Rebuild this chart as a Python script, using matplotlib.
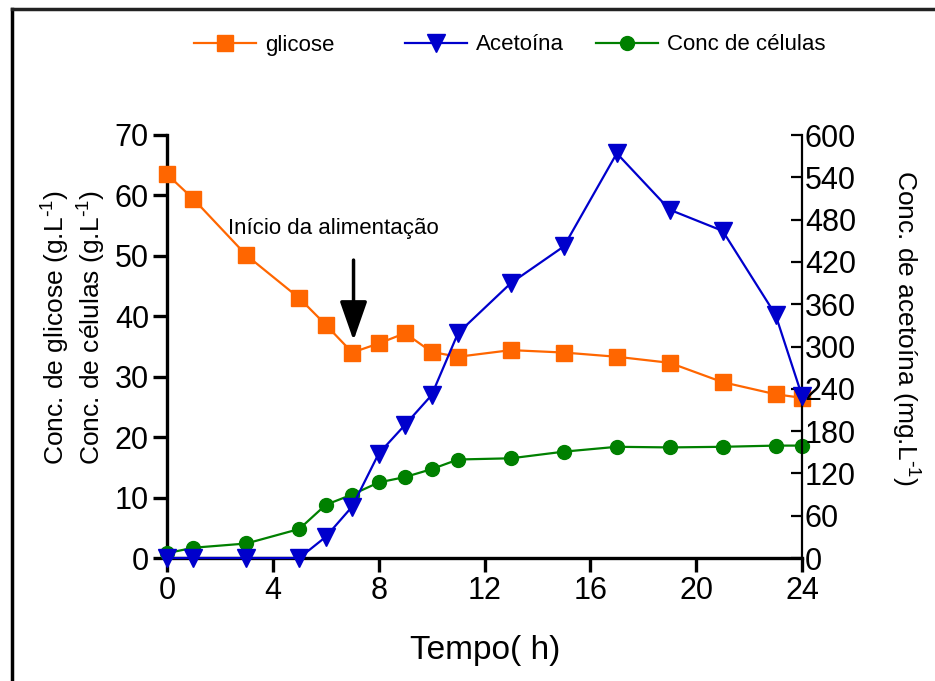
import numpy as np
import matplotlib.pyplot as plt
from matplotlib.lines import Line2D

plt.rcParams['font.family'] = ['Liberation Sans', 'DejaVu Sans']
plt.rcParams['mathtext.default'] = 'regular'

# tempo de cultivo (h)
tempo = [0, 1, 3, 5, 6, 7, 8, 9, 10, 11, 13, 15, 17, 19, 21, 23, 24]
# glicose (g/L)
glicose = [63.5, 59.4, 50.1, 43.0, 38.6, 34.0, 35.5, 37.2, 34.1, 33.3,
           34.4, 34.0, 33.3, 32.3, 29.1, 27.1, 26.5]
# células (g/L)
celulas = [0.8, 1.7, 2.4, 4.8, 8.8, 10.5, 12.5, 13.4, 14.7, 16.3,
           16.5, 17.6, 18.4, 18.3, 18.4, 18.6, 18.6]
# acetoína (mg/L)
acetoina = [0, 0, 0, 0, 30, 73, 148, 189, 231, 319,
            390, 442, 574, 494, 464, 345, 230]

laranja = '#ff6600'
azul = '#0000cc'
verde = '#008000'

fig = plt.figure(figsize=(9.35, 6.81), dpi=100)
ax = fig.add_axes([167/935, 1-558/681, 635/935, 423/681])
ax2 = ax.twinx()

l1, = ax.plot(tempo, glicose, '-s', color=laranja, lw=1.6, ms=11, clip_on=False, zorder=4)
l3, = ax.plot(tempo, celulas, '-o', color=verde, lw=1.6, ms=10, clip_on=False, zorder=4)
l2, = ax2.plot(tempo, acetoina, '-v', color=azul, lw=1.6, ms=13, clip_on=False, zorder=5)

ax.set_xlim(0, 24)
ax.set_ylim(0, 70)
ax2.set_ylim(0, 600)
ax.set_xticks(np.arange(0, 25, 4))
ax.set_yticks(np.arange(0, 71, 10))
ax2.set_yticks(np.arange(0, 601, 60))

for s in ['top', 'right']:
    ax.spines[s].set_visible(False)
for s in ['top', 'left', 'bottom']:
    ax2.spines[s].set_visible(False)
ax.spines['left'].set_linewidth(2.4)
ax.spines['bottom'].set_linewidth(2.4)
ax2.spines['right'].set_linewidth(1.6)

ax.tick_params(axis='both', direction='out', length=10, width=2.4, labelsize=22, pad=3)
ax2.tick_params(axis='y', direction='in', length=8, width=1.6, labelsize=22, pad=2)

# início da alimentação
ax.text(2.3, 54.6, 'Início da alimentação', fontsize=16, ha='left', va='center')
ax.annotate('', xy=(7.05, 36.0), xytext=(7.05, 49.3),
            arrowprops=dict(arrowstyle='-|>,head_length=1.2,head_width=0.42',
                            mutation_scale=20, lw=2.5, color='black',
                            shrinkA=0, shrinkB=0))

sup = r'$^{\text{-}1}$'
fig.text(74/935, 1-328/681, 'Conc. de glicose (g.L' + sup + ')\nConc. de células (g.L' + sup + ')',
         rotation=90, ha='center', va='center', fontsize=19, linespacing=1.15)
fig.text(905/935, 1-328/681, 'Conc. de acetoína (mg.L' + sup + ')',
         rotation=270, ha='center', va='center', fontsize=19)
fig.text(485/935, 1-650/681, 'Tempo( h)', ha='center', va='center', fontsize=24)

# legenda no topo
for h, lab, x0 in [(l1, 'glicose', 194/935), (l2, 'Acetoína', 405/935), (l3, 'Conc de células', 596/935)]:
    fig.legend(handles=[h], labels=[lab], loc='center left', bbox_to_anchor=(x0, 1-45/681),
               frameon=False, fontsize=16, handlelength=2.8, handletextpad=0.4,
               borderpad=0, borderaxespad=0)

# moldura
fig.add_artist(Line2D([12/935, 12/935], [0, 1-9/681], color='black', lw=2.5))
fig.add_artist(Line2D([12/935, 1], [1-9/681, 1-9/681], color='#222222', lw=2.5))

fig.savefig('out.png', dpi=100)
